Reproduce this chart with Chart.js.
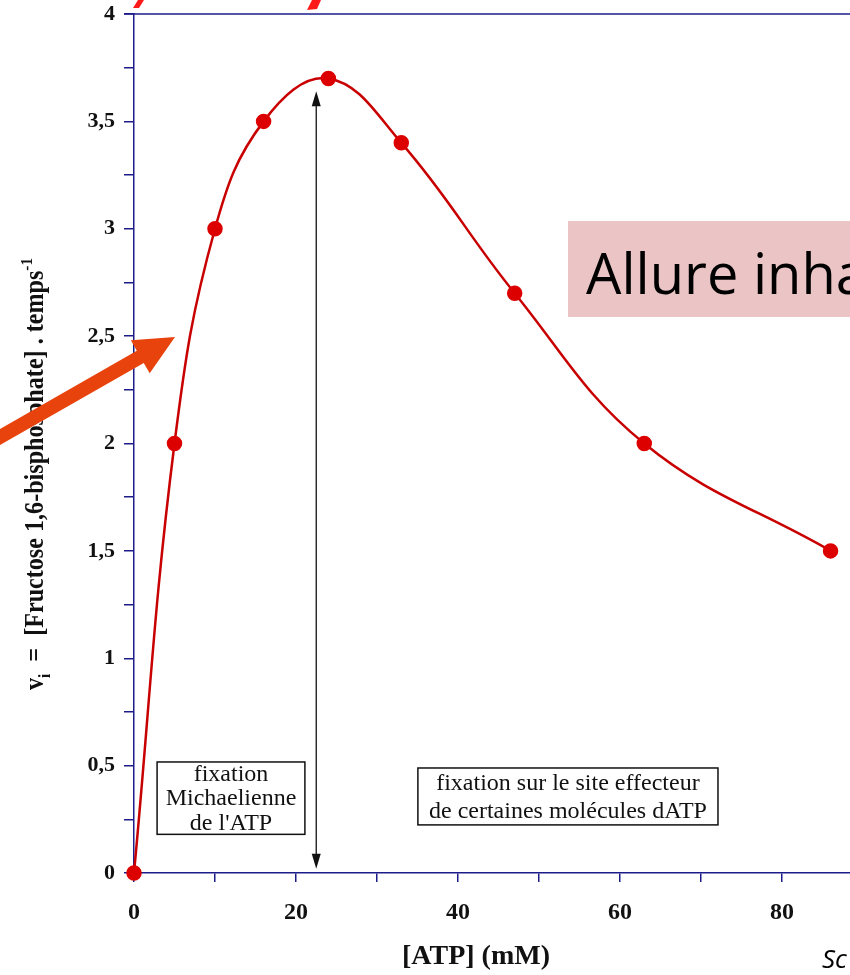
<!DOCTYPE html>
<html>
<head>
<meta charset="utf-8">
<script src="https://cdn.jsdelivr.net/npm/chart.js@4/dist/chart.umd.min.js"></script>
<style>
  html, body { margin: 0; padding: 0; background: #fff; }
  #wrap { width: 850px; height: 975px; position: relative; }
</style>
</head>
<body>
<div id="wrap"><canvas id="c"></canvas></div>
<script>
// valeurs
const atp = [0, 5, 10, 16, 24, 33, 47, 63, 86];
const vitesse = [0, 2, 3, 3.5, 3.7, 3.4, 2.7, 2.0, 1.5];
const xTicks = [0, 10, 20, 30, 40, 50, 60, 70, 80];
const xLabels = [0, 20, 40, 60, 80];
const yLabels = [0, 0.5, 1, 1.5, 2, 2.5, 3, 3.5, 4];

const AXIS = '#1c1c8a';
const SERIF = '"Liberation Serif", "DejaVu Serif", serif';

// flèche double + encadrés (en unités des axes)
const doubleArrow = { x: 22.5, y0: 0.02, y1: 3.64 };
const boxes = [
  { x0: 2.85, x1: 21.1, y0: 0.517, y1: 0.18, lines: ['fixation', 'Michaelienne', "de l'ATP"] },
  { x0: 35.05, x1: 72.1, y0: 0.489, y1: 0.224, lines: ['fixation sur le site effecteur', 'de certaines molécules dATP'] }
];

const overlay = {
  id: 'overlay',
  afterDatasetsDraw(chart) {
    const ctx = chart.ctx;
    const xs = chart.scales.x, ys = chart.scales.y;
    ctx.save();

    // cadre du haut
    ctx.strokeStyle = AXIS;
    ctx.lineWidth = 1.5;
    ctx.beginPath();
    ctx.moveTo(124, ys.getPixelForValue(4));
    ctx.lineTo(850, ys.getPixelForValue(4));
    ctx.stroke();

    // flèche double verticale
    const ax = xs.getPixelForValue(doubleArrow.x);
    const ay0 = ys.getPixelForValue(doubleArrow.y0);
    const ay1 = ys.getPixelForValue(doubleArrow.y1);
    ctx.strokeStyle = '#111';
    ctx.fillStyle = '#111';
    ctx.lineWidth = 1.3;
    ctx.beginPath();
    ctx.moveTo(ax, ay0 - 12);
    ctx.lineTo(ax, ay1 + 12);
    ctx.stroke();
    ctx.beginPath();
    ctx.moveTo(ax, ay1); ctx.lineTo(ax - 4.5, ay1 + 15); ctx.lineTo(ax + 4.5, ay1 + 15); ctx.closePath();
    ctx.fill();
    ctx.beginPath();
    ctx.moveTo(ax, ay0); ctx.lineTo(ax - 4.5, ay0 - 15); ctx.lineTo(ax + 4.5, ay0 - 15); ctx.closePath();
    ctx.fill();

    // encadrés
    ctx.font = '24px ' + SERIF;
    ctx.textAlign = 'center';
    ctx.textBaseline = 'middle';
    boxes.forEach(b => {
      const l = xs.getPixelForValue(b.x0), r = xs.getPixelForValue(b.x1);
      const t = ys.getPixelForValue(b.y0), bt = ys.getPixelForValue(b.y1);
      ctx.fillStyle = '#fff';
      ctx.fillRect(l, t, r - l, bt - t);
      ctx.strokeStyle = '#111';
      ctx.lineWidth = 1.5;
      ctx.strokeRect(l, t, r - l, bt - t);
      ctx.fillStyle = '#111';
      const lh = (bt - t) / b.lines.length;
      b.lines.forEach((s, i) => ctx.fillText(s, (l + r) / 2, t + lh * (i + 0.5) + 1));
    });

    // titre de l'axe y
    ctx.save();
    ctx.translate(43, 474);
    ctx.rotate(-Math.PI / 2);
    ctx.fillStyle = '#111';
    ctx.textBaseline = 'alphabetic';
    ctx.textAlign = 'left';
    const big = 'bold 27px ' + SERIF, small = 'bold 17px ' + SERIF;
    const parts = [
      { t: 'v', f: big, dy: 0 },
      { t: 'i', f: small, dy: 7 },
      { t: '  =  [Fructose 1,6-bisphosphate] . temps', f: big, dy: 0 },
      { t: '-1', f: small, dy: -11 }
    ];
    let w = 0;
    parts.forEach(p => { ctx.font = p.f; w += ctx.measureText(p.t).width; });
    const k = 432 / w;
    ctx.scale(k, 1);
    let cx = -w / 2;
    parts.forEach(p => { ctx.font = p.f; ctx.fillText(p.t, cx, p.dy); cx += ctx.measureText(p.t).width; });
    ctx.restore();

    // titre de l'axe x
    ctx.fillStyle = '#111';
    ctx.font = 'bold 28px ' + SERIF;
    ctx.textAlign = 'center';
    ctx.textBaseline = 'middle';
    ctx.fillText('[ATP] (mM)', 476, 957);

    // éléments de la diapositive
    ctx.fillStyle = '#ebc5c5';
    ctx.fillRect(568, 221, 290, 96);
    ctx.fillStyle = '#000';
    ctx.font = '56px "Open Sans", sans-serif';
    ctx.textAlign = 'left';
    ctx.textBaseline = 'alphabetic';
    ctx.fillText('Allure inha', 586, 294);

    ctx.font = 'italic 26px "Open Sans", sans-serif';
    ctx.fillText('Sc', 822, 968);

    // morceaux du titre rouge coupé
    ctx.fillStyle = '#ff1a1a';
    ctx.beginPath();
    ctx.moveTo(138, 0); ctx.lineTo(144, 0); ctx.lineTo(139, 8); ctx.lineTo(133, 8); ctx.closePath();
    ctx.fill();
    ctx.beginPath();
    ctx.moveTo(312, 0); ctx.lineTo(321, 0); ctx.lineTo(317, 9); ctx.lineTo(307, 10); ctx.closePath();
    ctx.fill();

    // flèche orange
    const tip = [175, 337];
    const dx = 0.868, dy = -0.496;
    const nx = -dy, ny = dx;
    const hl = 40, hw = 19, sw = 7;
    const bx = tip[0] - dx * hl, by = tip[1] - dy * hl;
    const tx = tip[0] - dx * 260, ty = tip[1] - dy * 260;
    ctx.fillStyle = '#e8430c';
    ctx.beginPath();
    ctx.moveTo(tx + nx * sw, ty + ny * sw);
    ctx.lineTo(bx + nx * sw, by + ny * sw);
    ctx.lineTo(bx + nx * hw, by + ny * hw);
    ctx.lineTo(tip[0], tip[1]);
    ctx.lineTo(bx - nx * hw, by - ny * hw);
    ctx.lineTo(bx - nx * sw, by - ny * sw);
    ctx.lineTo(tx - nx * sw, ty - ny * sw);
    ctx.closePath();
    ctx.fill();

    ctx.restore();
  }
};

new Chart(document.getElementById('c'), {
  type: 'line',
  data: {
    datasets: [{
      data: atp.map((x, i) => ({ x: x, y: vitesse[i] })),
      borderColor: '#c80000',
      borderWidth: 2.5,
      pointBackgroundColor: '#dd0000',
      pointBorderColor: '#dd0000',
      pointRadius: 6.5,
      tension: 0.4,
      clip: false
    }]
  },
  options: {
    responsive: true,
    maintainAspectRatio: false,
    animation: false,
    layout: { autoPadding: false, padding: { top: 14, right: 0, left: 0, bottom: 0 } },
    plugins: { legend: { display: false }, tooltip: { enabled: false } },
    scales: {
      x: {
        type: 'linear',
        min: 0,
        max: 88.4,
        afterBuildTicks: s => { s.ticks = xTicks.map(v => ({ value: v })); },
        afterFit: s => { s.height = 102; s.paddingLeft = 0; s.paddingRight = 0; },
        border: { color: AXIS, width: 1.5 },
        grid: { drawOnChartArea: false, color: AXIS, tickLength: 9, lineWidth: 1.5 },
        ticks: {
          color: '#111',
          padding: 16,
          maxRotation: 0,
          autoSkip: false,
          font: { family: SERIF, size: 24, weight: 'bold' },
          callback: v => xLabels.includes(v) ? String(v) : ''
        }
      },
      y: {
        min: 0,
        max: 4,
        afterBuildTicks: s => {
          const t = [];
          for (let i = 0; i <= 16; i++) t.push({ value: i / 4 });
          s.ticks = t;
        },
        afterFit: s => { s.width = 134; s.paddingTop = 0; s.paddingBottom = 0; },
        border: { color: AXIS, width: 1.5 },
        grid: { drawOnChartArea: false, color: AXIS, tickLength: 10, lineWidth: 1.5 },
        ticks: {
          color: '#111',
          padding: 9,
          autoSkip: false,
          font: { family: SERIF, size: 22, weight: 'bold', lineHeight: 1 },
          callback: v => yLabels.includes(v) ? String(v).replace('.', ',') : ''
        }
      }
    }
  },
  plugins: [overlay]
});
</script>
</body>
</html>
